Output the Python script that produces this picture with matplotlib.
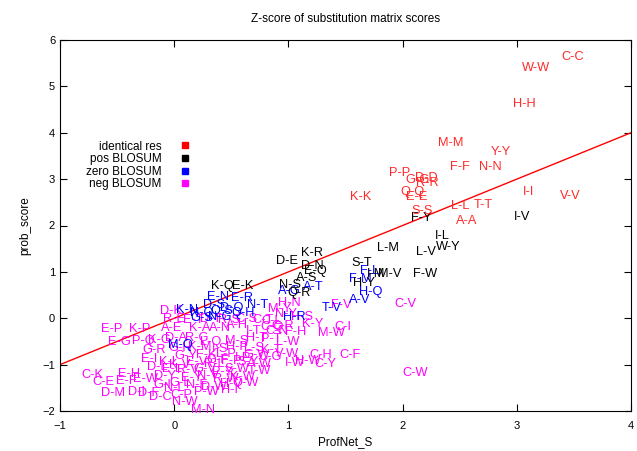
import matplotlib
matplotlib.use("Agg")
import matplotlib.pyplot as plt
from matplotlib.lines import Line2D

plt.rcParams['font.family'] = ['Liberation Sans', 'DejaVu Sans']

# identical residues (red)
red_labels = ['C-C', 'W-W', 'H-H', 'M-M', 'Y-Y', 'F-F', 'N-N', 'P-P', 'G-G', 'D-D',
              'R-R', 'Q-Q', 'E-E', 'K-K', 'I-I', 'V-V', 'L-L', 'T-T', 'S-S', 'A-A']
red_x = [3.49, 3.17, 3.07, 2.42, 2.86, 2.50, 2.77, 1.97, 2.13, 2.21,
         2.22, 2.09, 2.12, 1.63, 3.10, 3.47, 2.50, 2.71, 2.17, 2.56]
red_y = [5.63, 5.40, 4.62, 3.78, 3.59, 3.26, 3.26, 3.13, 2.98, 3.03,
         2.92, 2.72, 2.62, 2.62, 2.72, 2.64, 2.42, 2.44, 2.31, 2.10]

# positive BLOSUM (black)
pos_labels = ['K-R', 'D-E', 'D-N', 'E-Q', 'A-S', 'N-S', 'Q-R', 'K-Q', 'E-K', 'S-T',
              'I-M', 'M-V', 'F-W', 'L-M', 'L-V', 'W-Y', 'I-L', 'F-Y', 'I-V', 'H-Y']
pos_x = [1.21, 0.99, 1.21, 1.24, 1.16, 1.01, 1.09, 0.42, 0.60, 1.64,
         1.77, 1.89, 2.20, 1.87, 2.20, 2.40, 2.35, 2.16, 3.05, 1.66]
pos_y = [1.41, 1.24, 1.13, 1.02, 0.87, 0.72, 0.55, 0.70, 0.70, 1.19,
         0.96, 0.96, 0.96, 1.52, 1.43, 1.54, 1.77, 2.16, 2.18, 0.76]

# zero BLOSUM (blue)
zero_labels = ['K-N', 'N-Q', 'D-S', 'E-N', 'E-R', 'N-T', 'Q-S', 'Q-H', 'G-S', 'N-G',
               'M-Q', 'A-T', 'A-G', 'T-V', 'A-V', 'H-Q', 'F-M', 'F-L', 'H-R', 'D-Q']
zero_x = [0.11, 0.24, 0.35, 0.38, 0.59, 0.73, 0.42, 0.60, 0.24, 0.40,
          0.05, 1.22, 1.01, 1.38, 1.62, 1.72, 1.63, 1.71, 1.05, 0.50]
zero_y = [0.18, 0.12, 0.28, 0.46, 0.44, 0.28, 0.15, 0.12, 0.00, 0.02,
          -0.58, 0.68, 0.58, 0.22, 0.39, 0.57, 0.85, 1.02, 0.02, 0.22]

# negative BLOSUM (magenta)
neg_labels = ['C-V', 'C-W', 'F-V', 'H-N', 'C-I', 'M-W', 'C-F', 'C-H', 'C-Y', 'I-W',
              'H-W', 'C-G', 'V-W', 'L-W', 'F-H', 'N-Y', 'H-S', 'K-Y', 'C-Q', 'C-R',
              'C-N', 'C-L', 'T-W', 'K-W', 'M-N', 'N-W', 'C-K', 'C-E', 'E-F', 'E-W',
              'D-Y', 'D-M', 'D-I', 'D-F', 'D-C', 'C-P', 'G-I', 'G-L', 'N-L', 'E-P',
              'K-P', 'E-G', 'P-Q', 'K-G', 'G-R', 'E-I', 'K-L', 'D-L', 'E-L', 'D-K',
              'R-E', 'E-T', 'D-T', 'R-S', 'C-S', 'C-T', 'A-E', 'K-A', 'A-N', 'I-T',
              'A-H', 'D-A', 'R-G', 'L-Q', 'M-S', 'H-T', 'P-T', 'G-H', 'K-M', 'I-S',
              'H-P', 'L-S', 'K-T', 'G-Y', 'F-K', 'L-P', 'I-P', 'G-W', 'K-V', 'E-V',
              'R-L', 'F-P', 'S-Y', 'A-W', 'R-V', 'G-V', 'P-Y', 'S-W', 'E-Y', 'N-V',
              'R-W', 'D-W', 'H-V', 'N-F', 'P-W', 'H-I', 'M-Y', 'Q-W', 'E-H', 'G-F']
neg_x = [2.02, 2.11, 1.46, 1.01, 1.48, 1.38, 1.54, 1.28, 1.32, 1.06,
         1.17, 0.84, 0.99, 0.99, 1.06, 0.98, 1.12, 1.21, 0.86, 0.95,
         0.90, 0.85, 0.75, 0.60, 0.25, 0.09, -0.72, -0.62, -0.42, -0.25,
         -0.08, -0.54, -0.33, -0.22, -0.12, 0.06, -0.10, 0.05, 0.00, -0.55,
         -0.30, -0.48, -0.27, -0.13, -0.18, -0.22, -0.05, -0.15, -0.02, -0.03,
         0.00, 0.17, 0.32, 0.48, 0.63, 0.78, -0.02, 0.22, 0.40, 0.70,
         0.55, 0.02, 0.20, 0.32, 0.55, 0.72, 0.85, 0.05, 0.22, 0.40,
         0.55, 0.70, 0.85, 0.10, 0.28, 0.45, 0.60, 0.72, 0.05, 0.20,
         0.35, 0.50, 0.65, 0.75, 0.12, 0.27, 0.42, 0.55, 0.15, 0.30,
         0.45, 0.35, 0.50, 0.20, 0.28, 0.48, 0.92, 0.62, -0.40, 0.38]
neg_y = [0.31, -1.18, 0.29, 0.33, -0.19, -0.32, -0.79, -0.79, -0.98, -0.96,
         -0.93, -0.84, -0.77, -0.51, -0.30, 0.10, 0.03, -0.12, -0.19, -0.16,
         -0.27, -0.05, -1.13, -1.26, -1.97, -1.80, -1.22, -1.38, -1.36, -1.30,
         -1.25, -1.61, -1.60, -1.62, -1.70, -1.65, -1.45, -1.40, -1.50, -0.24,
         -0.24, -0.51, -0.50, -0.47, -0.68, -0.88, -0.95, -1.05, -1.10, 0.15,
         -0.02, -0.04, -0.02, -0.03, -0.02, -0.03, -0.20, -0.20, -0.20, -0.28,
         -0.15, -0.42, -0.42, -0.52, -0.50, -0.42, -0.45, -0.65, -0.63, -0.67,
         -0.62, -0.65, -0.68, -0.82, -0.80, -0.78, -0.85, -0.80, -1.00, -0.95,
         -0.98, -0.92, -0.95, -0.98, -1.12, -1.10, -1.15, -1.10, -1.28, -1.25,
         -1.30, -1.48, -1.42, -1.45, -1.58, -1.55, 0.20, -1.40, -1.20, -0.90]

line_x = [-1, 4]
line_y = [-1, 4]

legend_labels = ['identical res', 'pos BLOSUM', 'zero BLOSUM', 'neg BLOSUM']

fig = plt.figure(figsize=(6.37, 4.51), dpi=100)
ax = fig.add_axes([60/637, 1-411/451, (631-60)/637, (411-40)/451])

groups = [
    (neg_labels, neg_x, neg_y, '#ff00ff'),
    (zero_labels, zero_x, zero_y, '#0000ff'),
    (pos_labels, pos_x, pos_y, '#000000'),
    (red_labels, red_x, red_y, '#ff2a2a'),
]
for labs, xs, ys, col in groups:
    for lab, x, y in zip(labs, xs, ys):
        ax.text(x, y, lab, color=col, fontsize=9.2, ha='center', va='center')

ax.plot(line_x, line_y, color='#ff0000', lw=1)

ax.set_xlim(-1, 4)
ax.set_ylim(-2, 6)
ax.set_xticks([-1, 0, 1, 2, 3, 4])
ax.set_yticks([-2, -1, 0, 1, 2, 3, 4, 5, 6])
ax.tick_params(direction='in', top=True, right=True, labelsize=8, length=5)
ax.tick_params(axis='x', pad=7)
ax.set_title('Z-score of substitution matrix scores', fontsize=8.5, pad=13)
ax.set_xlabel('ProfNet_S', fontsize=8.5, labelpad=4)
ax.set_ylabel('prob_score', fontsize=8.5, labelpad=8)

handles = [Line2D([], [], marker='s', linestyle='none', color=c, markersize=4.5)
           for c in ['#ff0000', '#000000', '#0000ff', '#ff00ff']]
ax.legend(handles, legend_labels, loc='upper left', bbox_to_anchor=(0.035, 0.745),
          frameon=False, markerfirst=False, fontsize=8.5, labelspacing=0.05,
          handletextpad=1.2, handlelength=1.5, borderpad=0)

fig.savefig('out.png', dpi=100)
